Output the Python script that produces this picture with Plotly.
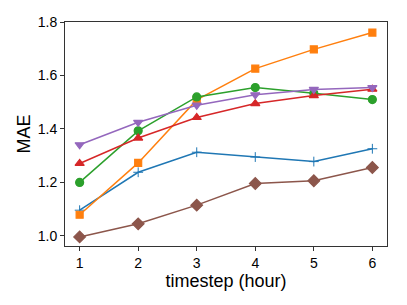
import plotly.graph_objects as go

x = [1, 2, 3, 4, 5, 6]
blue = [1.096, 1.238, 1.313, 1.295, 1.278, 1.326]
orange = [1.079, 1.273, 1.509, 1.626, 1.698, 1.761]
green = [1.200, 1.393, 1.520, 1.555, 1.534, 1.510]
red = [1.271, 1.366, 1.443, 1.495, 1.525, 1.549]
purple = [1.341, 1.425, 1.489, 1.528, 1.548, 1.555]
brown = [0.996, 1.045, 1.115, 1.196, 1.206, 1.256]
yticks = [1.0, 1.2, 1.4, 1.6, 1.8]
yticktext = ["1.0", "1.2", "1.4", "1.6", "1.8"]

series = [
    (blue, "#1f77b4", "cross-thin", 7, 1.0),
    (orange, "#ff7f0e", "square", 7, 1.2),
    (green, "#2ca02c", "circle", 8, 1.2),
    (red, "#d62728", "triangle-up", 8, 1.2),
    (purple, "#9467bd", "triangle-down", 8, 1.2),
    (brown, "#8c564b", "diamond", 9, 1.2),
]

fig = go.Figure()
for vals, col, sym, sz, lw in series:
    fig.add_trace(go.Scatter(
        x=x, y=vals, mode="lines+markers",
        line=dict(color=col, width=1.5),
        marker=dict(symbol=sym, size=sz, color=col,
                    line=dict(color=col, width=lw)),
        showlegend=False,
    ))

axis_common = dict(
    showline=True, linecolor="#333333", linewidth=1, mirror=True,
    ticks="outside", ticklen=4, tickcolor="#333333", showgrid=False,
    zeroline=False, tickfont=dict(size=14, color="black"),
)
fig.update_layout(
    width=399, height=297,
    margin=dict(l=57, r=20, t=14, b=59),
    plot_bgcolor="white", paper_bgcolor="white",
    font=dict(family="Liberation Sans, Arial", color="black"),
    xaxis=dict(range=[0.75, 6.25], tickvals=x, automargin=False,
               title=dict(text="timestep (hour)", font=dict(size=18), standoff=0),
               **axis_common),
    yaxis=dict(range=[0.962, 1.8005], tickvals=yticks, ticktext=yticktext, automargin=False,
               title=dict(text="MAE", font=dict(size=18), standoff=2),
               **axis_common),
)
fig.write_html("out.html")
